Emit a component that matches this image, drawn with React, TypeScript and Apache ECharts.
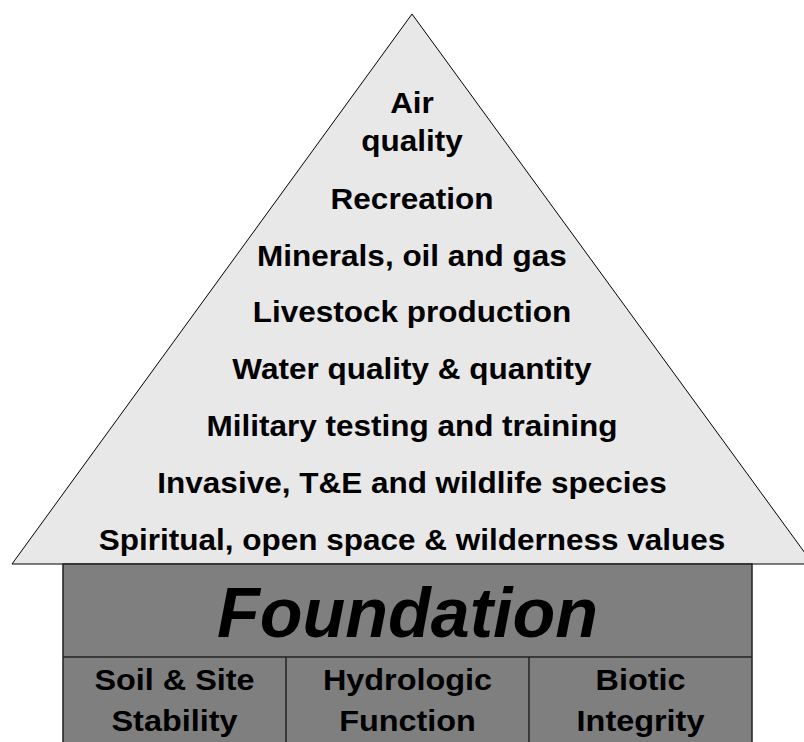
import React, { useEffect, useRef } from "react";
import * as echarts from "echarts";

// ---- Diagram content ----
const topService: string[] = ["Air", "quality"];
const services: string[] = [
  "Recreation",
  "Minerals, oil and gas",
  "Livestock production",
  "Water quality & quantity",
  "Military testing and training",
  "Invasive, T&E and wildlife species",
  "Spiritual, open space & wilderness values",
];
const foundationTitle: string = "Foundation";
const pillars: string[][] = [
  ["Soil & Site", "Stability"],
  ["Hydrologic", "Function"],
  ["Biotic", "Integrity"],
];

export default function App() {
  const ref = useRef<HTMLDivElement>(null);

  useEffect(() => {
    document.body.style.margin = "0";
    if (!ref.current) return;
    const chart = echarts.init(ref.current, null, { renderer: "svg" });

    const W = 804;
    const H = 742;
    const apex = [412, 14];
    const baseY = 564;
    const triLeft = 12;
    const triRight = 813;
    const boxL = 63;
    const boxR = 752;
    const divY = 657;
    const cx = 412;
    const triFont = 'bold 30px "Liberation Sans", Arial, sans-serif';
    const stretch = 1.05;

    const elements: any[] = [];
    elements.push({
      type: "polygon",
      shape: { points: [apex, [triLeft, baseY], [triRight, baseY]] },
      style: { fill: "#e8e8e8", stroke: "#000", lineWidth: 1 },
    });

    elements.push({
      type: "text",
      x: cx,
      y: 122,
      scaleX: stretch,
      style: {
        text: topService.join("\n"),
        x: 0,
        y: 0,
        font: triFont,
        fill: "#000",
        textAlign: "center",
        textVerticalAlign: "middle",
        lineHeight: 37.5,
      },
    });

    const firstY = 198.5;
    const step = (539.5 - firstY) / (services.length - 1);
    services.forEach((s, i) => {
      elements.push({
        type: "text",
        x: cx,
        y: firstY + i * step,
        scaleX: stretch,
        style: {
          text: s,
          x: 0,
          y: 0,
          font: triFont,
          fill: "#000",
          textAlign: "center",
          textVerticalAlign: "middle",
        },
      });
    });

    // Foundation box
    elements.push({
      type: "rect",
      shape: { x: boxL, y: baseY, width: boxR - boxL, height: H - baseY + 10 },
      style: { fill: "#7f7f7f", stroke: "#222", lineWidth: 1.5 },
    });
    elements.push({
      type: "line",
      shape: { x1: boxL, y1: divY, x2: boxR, y2: divY },
      style: { stroke: "#222", lineWidth: 1.5 },
    });
    elements.push({
      type: "text",
      x: (boxL + boxR) / 2,
      y: 613,
      style: {
        text: foundationTitle,
        x: 0,
        y: 0,
        font: 'italic bold 70px "Liberation Sans", Arial, sans-serif',
        fill: "#000",
        textAlign: "center",
        textVerticalAlign: "middle",
      },
    });

    const cellEdges = [boxL, 286, 529, boxR];
    pillars.forEach((p, i) => {
      if (i > 0) {
        elements.push({
          type: "line",
          shape: { x1: cellEdges[i], y1: divY, x2: cellEdges[i], y2: H + 5 },
          style: { stroke: "#222", lineWidth: 1.5 },
        });
      }
      elements.push({
        type: "text",
        x: (cellEdges[i] + cellEdges[i + 1]) / 2,
        y: 700,
        scaleX: 1.08,
        style: {
          text: p.join("\n"),
          x: 0,
          y: 0,
          font: triFont,
          fill: "#000",
          textAlign: "center",
          textVerticalAlign: "middle",
          lineHeight: 41,
        },
      });
    });

    chart.setOption({
      animation: false,
      backgroundColor: "#ffffff",
      graphic: { elements },
    });

    return () => chart.dispose();
  }, []);

  return (
    <div
      ref={ref}
      style={{ position: "fixed", left: 0, top: 0, width: 804, height: 742 }}
    />
  );
}
